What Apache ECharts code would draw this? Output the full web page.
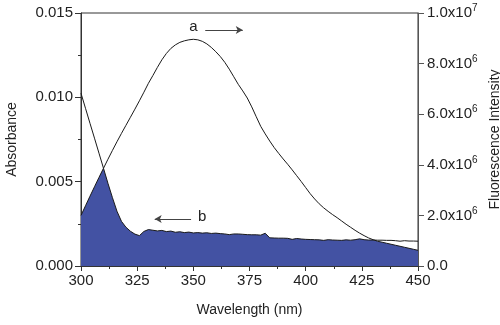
<!DOCTYPE html>
<html>
<head>
<meta charset="utf-8">
<script src="https://cdn.jsdelivr.net/npm/echarts@6/dist/echarts.min.js"></script>
<style>html,body{margin:0;padding:0;background:#fff}#c{width:500px;height:325px}</style>
</head>
<body>
<div id="c"></div>
<script>
const wavelength = [300,302,304,306,308,310,312,314,316,318,320,322,324,326,328,330,332,334,336,338,340,342,344,346,348,350,352,354,356,358,360,362,364,366,368,370,372,374,376,378,380,382,384,386,388,390,392,394,396,398,400,402,404,406,408,410,412,414,416,418,420,422,424,426,428,430,432,434,436,438,440,442,444,446,448,450];
// curve b: absorbance (left axis)
const absorbance = [0.01024,0.00935,0.00846,0.00758,0.00669,0.00580,0.00490,0.00405,0.00325,0.00265,0.00230,0.00206,0.00189,0.00180,0.00205,0.00216,0.00212,0.00208,0.00211,0.00204,0.00207,0.00200,0.00203,0.00198,0.00201,0.00196,0.00198,0.00195,0.00197,0.00193,0.00195,0.00192,0.00190,0.00186,0.00190,0.00190,0.00188,0.00186,0.00185,0.00185,0.00183,0.00194,0.00167,0.00166,0.00165,0.00165,0.00164,0.00158,0.00163,0.00160,0.00158,0.00157,0.00156,0.00155,0.00152,0.00156,0.00154,0.00153,0.00152,0.00155,0.00153,0.00156,0.00161,0.00156,0.00154,0.00154,0.00153,0.00153,0.00152,0.00152,0.00150,0.00147,0.00150,0.00148,0.00148,0.00147];
// curve a: fluorescence intensity, in millions (right axis)
const fluorescenceMillions = [2.00,2.38,2.76,3.13,3.50,3.86,4.22,4.57,4.91,5.24,5.56,5.88,6.20,6.53,6.87,7.22,7.53,7.85,8.15,8.40,8.60,8.74,8.84,8.90,8.94,8.96,8.94,8.88,8.78,8.64,8.47,8.28,8.05,7.78,7.48,7.18,6.92,6.64,6.29,5.90,5.52,5.22,4.94,4.68,4.45,4.23,4.02,3.80,3.57,3.34,3.10,2.86,2.65,2.46,2.30,2.16,2.03,1.91,1.78,1.65,1.53,1.41,1.30,1.20,1.11,1.04,0.98,0.94,0.90,0.86,0.82,0.78,0.74,0.70,0.66,0.62];
const absMax = 0.015, flMax = 1e7;

const absData = wavelength.map((w,i)=>[w, absorbance[i]]);
const flData = wavelength.map((w,i)=>[w, fluorescenceMillions[i]*1e6]);
// spectral overlap (shaded): the lower of the two curves on the common scale
const overlapData = wavelength.map((w,i)=>[w, Math.min(absorbance[i], fluorescenceMillions[i]*1e6/flMax*absMax)]);

const FONT = "'Liberation Sans', Arial, sans-serif";
const TXT = '#222';
const AX = '#333';

const chart = echarts.init(document.getElementById('c'), null, {renderer:'canvas'});
chart.setOption({
  animation:false,
  backgroundColor:'#fff',
  grid:{left:81, right:82, top:13, bottom:59, containLabel:false, outerBoundsMode:'none',
        show:true, borderColor:AX, borderWidth:1, backgroundColor:'transparent'},
  xAxis:{
    type:'value', min:300, max:450, interval:25,
    name:'Wavelength (nm)', nameLocation:'middle', nameGap:37,
    nameTextStyle:{fontFamily:FONT, fontSize:14, color:TXT},
    axisLine:{lineStyle:{color:AX, width:1}},
    axisTick:{inside:false, length:5, lineStyle:{color:AX}},
    minorTick:{show:true, splitNumber:2, length:3, lineStyle:{color:AX}},
    splitLine:{show:false},
    axisLabel:{fontFamily:FONT, fontSize:15, color:TXT, margin:7}
  },
  yAxis:[{
    type:'value', min:0, max:absMax, interval:0.005, position:'left',
    name:'Absorbance', nameLocation:'middle', nameGap:62, nameRotate:90,
    nameTextStyle:{fontFamily:FONT, fontSize:14, color:TXT},
    axisLine:{show:true, lineStyle:{color:AX, width:1}},
    axisTick:{show:true, inside:false, length:6, lineStyle:{color:AX}},
    minorTick:{show:true, splitNumber:2, length:3, lineStyle:{color:AX}},
    splitLine:{show:false},
    axisLabel:{fontFamily:FONT, fontSize:15, color:TXT, margin:8, formatter:v=>v.toFixed(3)}
  },{
    type:'value', min:0, max:flMax, interval:2e6, position:'right',
    name:'Fluorescence Intensity', nameLocation:'middle', nameGap:69, nameRotate:90,
    nameTextStyle:{fontFamily:FONT, fontSize:14, color:TXT},
    axisLine:{show:true, lineStyle:{color:'#555', width:1}},
    axisTick:{show:true, inside:false, length:6, lineStyle:{color:'#555'}},
    minorTick:{show:false},
    splitLine:{show:false},
    axisLabel:{fontFamily:FONT, fontSize:15, color:TXT, margin:9,
      formatter:v=>{
        if(v===0) return '0.0';
        const e=Math.floor(Math.log10(v)+1e-9);
        const m=v/Math.pow(10,e);
        return m.toFixed(1)+'x10{sup|'+e+'}';
      },
      rich:{sup:{fontFamily:FONT, fontSize:10, color:TXT, padding:[0,0,9,0]}}
    }
  }],
  series:[{
    name:'overlap', type:'line', yAxisIndex:0, data:overlapData, showSymbol:false,
    lineStyle:{width:0}, areaStyle:{color:'#4352A3', opacity:1}, z:1, silent:true
  },{
    name:'a', type:'line', yAxisIndex:1, data:flData, showSymbol:false, smooth:false,
    lineStyle:{color:'#1a1a1a', width:1}, z:3
  },{
    name:'b', type:'line', yAxisIndex:0, data:absData, showSymbol:false, smooth:false,
    lineStyle:{color:'#1a1a1a', width:1}, z:3,
    markLine:{
      silent:true, symbol:['none','arrow'], symbolSize:[6,7],
      label:{show:false},
      lineStyle:{color:'#444', width:1, type:'solid'},
      data:[
        [{coord:[355.3,0.01399]},{coord:[372.0,0.01399]}],
        [{coord:[349.0,0.00279]},{coord:[332.8,0.00279]}]
      ]
    },
    markPoint:{
      silent:true, symbol:'circle', symbolSize:1, itemStyle:{color:'rgba(0,0,0,0)'},
      label:{show:true, position:'inside', fontFamily:FONT, fontSize:15, color:TXT},
      data:[
        {coord:[350.0,0.01420], label:{formatter:'a'}},
        {coord:[353.9,0.00290], label:{formatter:'b'}}
      ]
    }
  }]
});
</script>
</body>
</html>
